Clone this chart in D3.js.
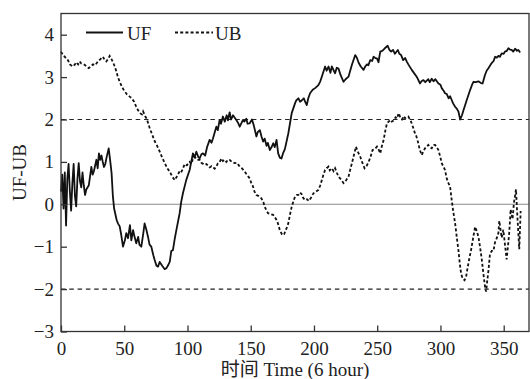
<!DOCTYPE html>
<html>
<head>
<meta charset="utf-8">
<script src="https://cdn.jsdelivr.net/npm/d3@7"></script>
<style>
  html, body { margin: 0; padding: 0; background: #fff; }
  svg { display: block; }
</style>
</head>
<body>
<div id="chart"></div>
<script>
// ---------------- data ----------------
const xTicks = [0, 50, 100, 150, 200, 250, 300, 350];
const yTicks = [-3, -2, -1, 0, 1, 2, 3, 4];
const thresholds = [2, -2];
const seriesNames = ["UF", "UB"];
const xLabel = "时间 Time (6 hour)";
const yLabel = "UF-UB";

const ufTime = [0,1,2,3,4,5,6,7,8,9,10,11,12,13,14,15,16,17,18,19,20,22,24,25,26,28,29,30,31,32,33,34,35,36,37.7,39,40,41,42,44,45,46.4,47.5,49,50.5,51.6,53,54.5,55.6,57,58,59.5,61,62,63.5,65,66.1,67.5,68.8,70,71.4,73,74,75.5,76.7,78,80,82,83.5,85,86,87.2,88.5,90,91.2,93.8,95,96.4,99,101.7,104.3,105.5,107,108.5,109.6,111,112.3,114,115.5,117.5,119,120.2,122.8,124,125.4,126.5,128,129.5,131,132,133.3,134.5,136,138.6,140,141.3,143.9,145,146.5,147.5,149.2,151,152.5,154.5,155.5,157.2,158.5,159.8,161,162.5,163.5,165.1,166.5,167.8,169,170.4,171.7,173,174.3,175.5,177,179.7,182.4,185,186,187.7,189,190.3,192,193,194.3,195.5,196.9,199,200.9,203.5,205,206.2,208.8,210,211.5,213,214.1,216.7,218,219.4,221,223.4,225,227.3,230,232.6,234,235.3,237,239.2,240.5,241.9,243,244.5,246,247.1,248.5,249.8,251,252.4,254,256,258.3,259.5,261,262.5,264,266.3,267.5,268.9,270.5,272,273.5,274.6,277.3,279,281.2,283.8,285,286.5,288,290.4,291.5,293.1,294.5,296,298.4,300,301,302.5,303.6,305,306.5,307.6,308.9,310,311.6,313,314.2,315.6,317,318.2,320.8,323.5,325,326.1,328,330,332,333.3,335.2,336.5,337.9,340.5,342,343.2,344.5,345.8,347,348.4,350,351,352.5,353.7,355,356.3,357.5,359,360.5,361.6,363];
const ufValue = [0.3,0.7,-0.1,0.75,-0.5,0.6,0.95,0.3,-0.15,0.5,0.95,0.2,-0.05,0.6,0.97,0.55,0.4,0.75,0.45,0.22,0.35,0.45,0.88,0.7,0.78,1.05,0.85,1.2,1.05,1.15,1.0,0.88,0.95,1.1,1.32,1.0,0.73,0.2,-0.1,-0.37,-0.45,-0.52,-0.7,-1.0,-0.85,-0.68,-0.8,-0.49,-0.85,-0.61,-0.75,-0.92,-0.77,-0.95,-1.0,-0.7,-0.45,-0.6,-0.77,-0.95,-1.0,-1.2,-1.31,-1.45,-1.47,-1.36,-1.45,-1.53,-1.5,-1.42,-1.35,-1.1,-1.08,-0.8,-0.61,-0.21,0.05,0.26,0.57,0.81,1.2,1.1,1.24,1.12,1.08,1.18,1.2,1.15,1.35,1.52,1.45,1.56,1.83,1.75,1.99,1.9,2.07,1.95,2.1,1.98,2.17,2.0,2.1,1.99,1.92,1.83,1.99,1.95,2.02,1.9,1.91,2.0,1.85,1.6,1.7,1.75,1.6,1.48,1.55,1.38,1.45,1.28,1.35,1.44,1.35,1.52,1.2,1.1,1.08,1.2,1.3,1.67,2.15,2.38,2.45,2.5,2.42,2.45,2.5,2.42,2.34,2.5,2.62,2.7,2.74,2.81,2.9,3.01,3.25,3.15,3.25,3.1,3.25,3.09,3.22,3.2,3.05,2.89,2.95,3.01,3.29,3.52,3.45,3.34,3.25,3.17,3.25,3.3,3.28,3.4,3.38,3.48,3.45,3.44,3.35,3.6,3.62,3.68,3.74,3.65,3.6,3.64,3.55,3.64,3.55,3.52,3.4,3.45,3.36,3.3,3.17,3.1,3.01,2.85,2.9,2.93,2.88,2.95,2.88,2.96,2.9,2.95,2.85,2.82,2.74,2.68,2.62,2.6,2.5,2.55,2.46,2.38,2.3,2.25,2.19,2.0,2.1,2.22,2.46,2.7,2.82,2.89,2.88,2.9,2.86,2.85,3.05,3.15,3.21,3.33,3.38,3.48,3.46,3.5,3.48,3.56,3.55,3.6,3.62,3.68,3.65,3.64,3.6,3.67,3.62,3.64,3.58];

const ubTime = [0,2,3,4.5,5.5,7,9.5,11,12.1,13.5,14.8,16,18.7,20,21.9,23.5,25.3,27,29.2,31,33.2,34.5,35.8,37,38.5,40,41.1,42.5,43.8,45,46.4,48.5,50.4,52,54.3,56,57.8,59.5,60.9,62.5,64,64.9,66.5,67.5,68.5,70.2,72,74.2,76,78.1,80,82.1,84,86,88,89.9,91.5,93.8,95,96.5,97.8,99.5,101.7,103,104.6,105.7,107.5,109.6,111,113.6,115,117.5,119,121.5,123,124.1,125.5,126.8,128,129.5,130.7,132,133.3,135,137.3,139,141.3,143,145.2,147,149.2,150.5,151.8,153,154.5,156,158.4,160,161.1,162.5,163.7,165,166.5,167.7,169,170.4,171.5,173,174.5,175.6,176.5,177.5,178.3,179.7,181,182.4,183.5,185,186.5,187.7,189,190.3,191.5,193,194.5,196,197.5,199.6,201.5,203.5,205,206.2,207.5,208.8,210,211.5,212.5,214.1,215.5,216.7,218,219.4,221,223.4,225,227.3,228.5,230,231.5,233.2,234.5,236.6,238,240,241.5,243.2,244.5,246.3,248,249.8,251,252.4,253.5,255.1,256.5,257.7,259,260.4,261.5,263,264.5,265.5,267,268.2,269.6,271,272,273.6,274.6,276.3,277.3,279.9,281,282.5,283.5,285.2,286.5,287.8,289,290.4,291.5,293.1,294.5,295.7,297,298.4,300,301,302.5,303.6,305,306.3,307.6,308.9,310,311.6,313,314.2,315.3,316.3,317.5,319,320.3,321.6,323,324.2,325.8,327.4,328.5,330,331.5,332.7,334,335.3,336.1,337,338,339.1,340.5,341.9,343.1,344.5,345.8,346.5,347.5,348.4,349.7,351,352.3,353.5,354.4,355.5,357,358.1,359.7,360.8,362.3,363.4];
const ubValue = [3.6,3.5,3.48,3.42,3.4,3.3,3.25,3.3,3.35,3.3,3.37,3.32,3.29,3.25,3.21,3.25,3.3,3.28,3.37,3.42,3.48,3.4,3.37,3.42,3.5,3.42,3.35,3.25,3.13,3.0,2.89,2.75,2.66,2.6,2.54,2.5,2.42,2.3,2.22,2.15,2.12,2.19,2.08,2.03,1.95,1.79,1.65,1.48,1.38,1.24,1.1,0.97,0.85,0.77,0.65,0.57,0.65,0.78,0.75,0.85,0.95,0.92,1.0,0.95,1.1,1.12,1.05,1.05,0.98,0.93,0.95,0.87,0.9,0.84,0.9,0.97,1.0,1.08,1.02,1.05,1.0,1.05,1.05,1.0,0.97,0.98,0.89,0.85,0.77,0.7,0.61,0.5,0.42,0.3,0.22,0.2,0.14,0.05,-0.06,-0.15,-0.21,-0.22,-0.24,-0.25,-0.3,-0.37,-0.45,-0.61,-0.7,-0.73,-0.7,-0.62,-0.57,-0.45,-0.25,-0.06,0.05,0.18,0.22,0.22,0.28,0.24,0.15,0.1,0.12,0.08,0.15,0.26,0.3,0.34,0.45,0.57,0.7,0.81,0.85,0.89,0.8,0.85,0.78,0.85,0.75,0.65,0.6,0.5,0.55,0.65,0.8,0.97,1.15,1.36,1.25,1.12,1.0,0.85,0.9,1.0,1.1,1.28,1.3,1.36,1.3,1.2,1.35,1.52,1.75,1.91,1.95,1.99,1.95,1.98,2.05,2.02,2.15,2.05,2.0,2.08,2.03,2.05,2.07,1.98,1.91,1.67,1.6,1.44,1.3,1.16,1.25,1.32,1.36,1.4,1.35,1.32,1.4,1.4,1.35,1.28,1.1,0.97,0.88,0.81,0.6,0.5,0.42,0.1,-0.15,-0.45,-0.8,-1.08,-1.4,-1.63,-1.75,-1.79,-1.7,-1.47,-1.25,-1.08,-0.8,-0.53,-0.62,-0.76,-1.05,-1.31,-1.65,-1.97,-2.06,-1.8,-1.55,-1.18,-1.1,-1.1,-0.9,-0.8,-0.68,-0.39,-0.6,-0.79,-0.6,-0.95,-1.3,-0.95,-0.66,-0.12,-0.35,0.04,0.35,-0.28,-1.06,-0.16];

// ---------------- layout ----------------
(function () {
const W = 530, H = 379;
const pLeft = 61, pRight = 529, pTop = 13.5, pBottom = 331.5;
const FONT = "'Liberation Serif', 'Times New Roman', 'Noto Sans CJK SC', serif";

const svg = d3.select("#chart").append("svg")
  .attr("width", W).attr("height", H)
  .style("font-family", FONT);

const x = d3.scaleLinear().domain([0, 370]).range([pLeft, pRight]);
const y = d3.scaleLinear().domain([-3, 4.5]).range([pBottom, pTop]);

// zero line
svg.append("line")
  .attr("x1", x(0)).attr("x2", x(370))
  .attr("y1", y(0)).attr("y2", y(0))
  .attr("stroke", "#8a8a8a").attr("stroke-width", 1.1);

// threshold dashed lines
svg.selectAll(".thr").data(thresholds).enter().append("line")
  .attr("x1", x(0)).attr("x2", x(370))
  .attr("y1", d => y(d)).attr("y2", d => y(d))
  .attr("stroke", "#222").attr("stroke-width", 1.1)
  .attr("stroke-dasharray", "4.5,3.8");

const line = d3.line().x(d => x(d[0])).y(d => y(d[1]));

const ufData = ufTime.map((t, i) => [t, ufValue[i]]);
const ubData = ubTime.map((t, i) => [t, ubValue[i]]);

svg.append("path").datum(ubData)
  .attr("d", line).attr("fill", "none")
  .attr("stroke", "#111").attr("stroke-width", 1.8)
  .attr("stroke-dasharray", "3,2.2");

svg.append("path").datum(ufData)
  .attr("d", line).attr("fill", "none")
  .attr("stroke", "#111").attr("stroke-width", 1.8)
  .attr("stroke-linejoin", "round");

// frame
svg.append("rect")
  .attr("x", pLeft).attr("y", pTop)
  .attr("width", pRight - pLeft).attr("height", pBottom - pTop)
  .attr("fill", "none").attr("stroke", "#333").attr("stroke-width", 1.3);

// axes
const xAxis = d3.axisBottom(x).tickValues(xTicks).tickSize(-6).tickPadding(10).tickFormat(d3.format("d"));
const gx = svg.append("g").attr("transform", `translate(0,${pBottom})`).call(xAxis);
gx.select(".domain").remove();
gx.selectAll(".tick line").attr("stroke", "#333").attr("stroke-width", 1.3);
gx.selectAll(".tick text").attr("font-size", 19).attr("fill", "#222").style("font-family", FONT);

const yAxis = d3.axisLeft(y).tickValues(yTicks).tickSize(-6).tickPadding(7)
  .tickFormat(d => d < 0 ? "\u2212" + Math.abs(d) : String(d));
const gy = svg.append("g").attr("transform", `translate(${pLeft},0)`).call(yAxis);
gy.select(".domain").remove();
gy.selectAll(".tick line").attr("stroke", "#333").attr("stroke-width", 1.3);
gy.selectAll(".tick text").attr("font-size", 19).attr("fill", "#222").style("font-family", FONT);

// axis labels
svg.append("text")
  .attr("x", (pLeft + pRight) / 2).attr("y", 376)
  .attr("text-anchor", "middle").attr("font-size", 19).attr("fill", "#222")
  .text(xLabel);

svg.append("text")
  .attr("transform", `translate(25.5,${(pTop + pBottom) / 2}) rotate(-90)`)
  .attr("text-anchor", "middle").attr("font-size", 19).attr("fill", "#222")
  .text(yLabel);

// legend
const legend = svg.append("g");
const legItems = [
  { name: seriesNames[0], x1: 86, x2: 123, tx: 127, dash: null },
  { name: seriesNames[1], x1: 175, x2: 213, tx: 215, dash: "3,2.2" }
];
legItems.forEach(it => {
  legend.append("line")
    .attr("x1", it.x1).attr("x2", it.x2).attr("y1", 32.5).attr("y2", 32.5)
    .attr("stroke", "#111").attr("stroke-width", 1.8)
    .attr("stroke-dasharray", it.dash);
  legend.append("text")
    .attr("x", it.tx).attr("y", 40)
    .attr("font-size", 19).attr("fill", "#222")
    .text(it.name);
});
})();
</script>
</body>
</html>
